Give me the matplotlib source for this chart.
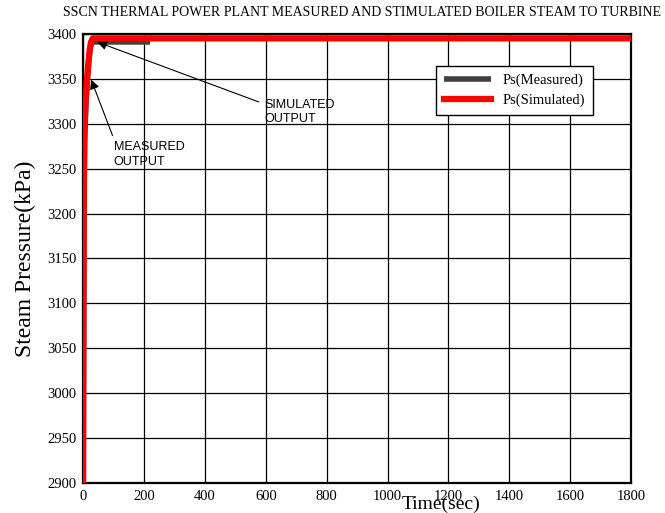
import matplotlib
matplotlib.use("Agg")
import matplotlib.pyplot as plt
import numpy as np

# measured steam pressure (kPa)
t_meas = [0, 1, 3, 5, 9, 14, 19, 24, 30, 220]
p_meas = [2900, 2990, 3200, 3280, 3320, 3350, 3372, 3386, 3391, 3391]

# simulated steam pressure (kPa)
t_sim = [0, 1, 2, 4, 8, 13, 18, 22, 26, 32, 60, 200, 600, 1000, 1400, 1800]
p_sim = [2900, 3100, 3240, 3295, 3325, 3350, 3370, 3383, 3391, 3395, 3395, 3395, 3395, 3395, 3395, 3395]

xticks = np.arange(0, 1801, 200)
yticks = np.arange(2900, 3401, 50)

serif = ["Liberation Serif", "DejaVu Serif"]
sans = ["Liberation Sans", "DejaVu Sans"]

fig = plt.figure(figsize=(6.65, 5.13), dpi=100)
ax = fig.add_axes([0.125, 0.0585, 0.824, 0.8755])

ax.plot(t_meas, p_meas, color="#404040", lw=4, solid_capstyle="butt", label="Ps(Measured)", zorder=3)
ax.plot(t_sim, p_sim, color="red", lw=4.5, label="Ps(Simulated)", zorder=4)

ax.set_xlim(0, 1800)
ax.set_ylim(2900, 3400)
ax.set_xticks(xticks)
ax.set_yticks(yticks)
ax.grid(True, color="black", lw=0.9, ls="-")
ax.set_axisbelow(True)
ax.tick_params(direction="in", length=3, labelsize=10.5, pad=5)
for lab in ax.get_xticklabels() + ax.get_yticklabels():
    lab.set_family(serif)
for s in ax.spines.values():
    s.set_linewidth(1.6)

ax.set_ylabel("Steam Pressure(kPa)", fontsize=17, family=serif, labelpad=8)
ax.set_xlabel("Time(sec)", fontsize=14, family=serif)
ax.xaxis.set_label_coords(0.653, -0.028, transform=ax.transAxes)
ax.xaxis.label.set_va("top")

fig.text(0.545, 0.976, "SSCN THERMAL POWER PLANT MEASURED AND STIMULATED BOILER STEAM TO TURBINE",
         ha="center", va="center", fontsize=10, family=serif)

arrow = dict(arrowstyle="-|>", color="black", lw=0.8, mutation_scale=14)
ax.annotate("SIMULATED\nOUTPUT", xy=(38, 3392), xytext=(595, 3313),
            fontsize=9, family=sans, ha="left", va="center", linespacing=1.3,
            arrowprops=dict(arrow, relpos=(0, 0.8)))
ax.annotate("MEASURED\nOUTPUT", xy=(23, 3352), xytext=(100, 3266),
            fontsize=9, family=sans, ha="left", va="center", linespacing=1.3,
            arrowprops=dict(arrow, relpos=(0, 1.1)))

leg = ax.legend(loc="upper right", bbox_to_anchor=(0.931, 0.929), borderaxespad=0,
                prop={"family": serif, "size": 10.5},
                fancybox=False, edgecolor="black", framealpha=1, handlelength=3.2,
                borderpad=0.55, labelspacing=0.45)
leg.get_frame().set_linewidth(1.0)

fig.savefig("out.png", dpi=100)
